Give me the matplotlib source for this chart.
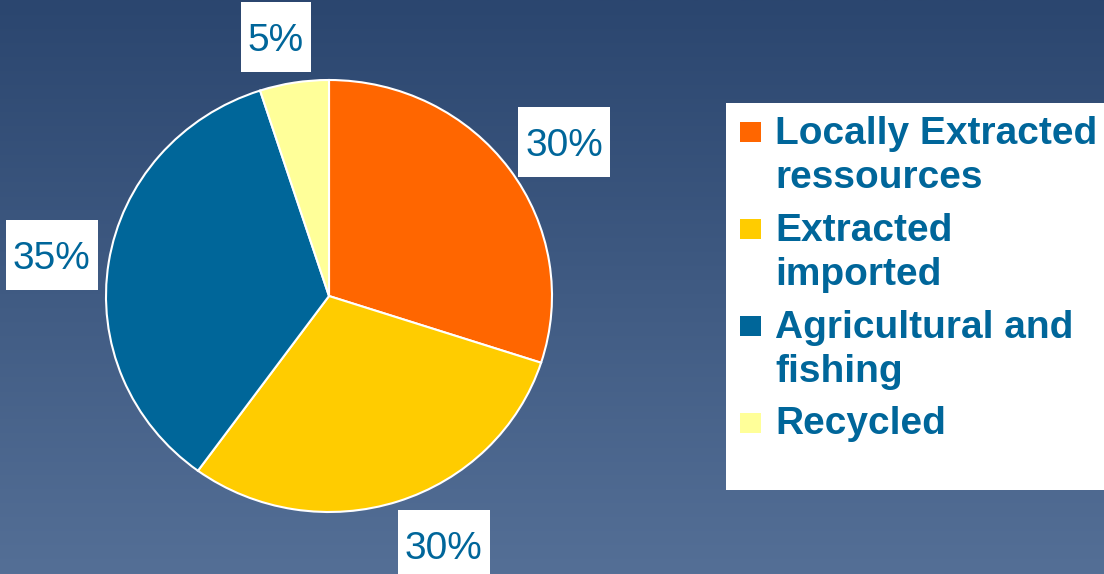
import matplotlib
matplotlib.use("Agg")
import matplotlib.pyplot as plt
from matplotlib.patches import Rectangle
from matplotlib.colors import LinearSegmentedColormap
import numpy as np

categories = ["Locally Extracted\nressources", "Extracted\nimported",
              "Agricultural and\nfishing", "Recycled"]
shares = [30, 30, 35, 5]
colors = ["#ff6600", "#ffcc00", "#006699", "#ffff99"]

W, H = 1104, 574
text_blue = "#00669a"
plt.rcParams['font.family'] = ['Liberation Sans', 'DejaVu Sans']

fig = plt.figure(figsize=(W / 100, H / 100), dpi=100)
to_fig = fig.transFigure.inverted()

# gradient background
bg = fig.add_axes([0, 0, 1, 1], zorder=-10)
cmap = LinearSegmentedColormap.from_list("bg", ["#546f96", "#2b466f"])
grad = np.linspace(0, 1, 256).reshape(-1, 1)
bg.imshow(grad, aspect='auto', cmap=cmap, origin='lower', extent=[0, 1, 0, 1])
bg.axis('off')

# pie, slightly wider than tall like the original
cx, cy, rx, ry = 329, 278, 223, 216
ax = fig.add_axes([(cx - rx) / W, (cy - ry) / H, 2 * rx / W, 2 * ry / H])
ax.patch.set_alpha(0)
wedges, _ = ax.pie(shares, colors=colors, startangle=90, counterclock=False,
                   wedgeprops=dict(edgecolor='white', linewidth=1.5))
ax.set_aspect('auto')
ax.set_xlim(-1, 1)
ax.set_ylim(-1, 1)

# percentage labels in white boxes, placed outside each wedge (powerpoint style)
renderer = fig.canvas.get_renderer()
total = sum(shares)
for w, v in zip(wedges, shares):
    mid = np.deg2rad((w.theta1 + w.theta2) / 2)
    dx, dy = np.cos(mid), np.sin(mid)
    t = fig.text(0, 0, f"{v / total * 100:.0f}%", fontsize=28, color=text_blue,
                 ha='center', va='center_baseline', zorder=5)
    ext = t.get_window_extent(renderer)
    bw, bh = ext.width + 14, 70
    ax_pt = ax.transData.transform((1.05 * dx, 1.05 * dy))
    bxc = ax_pt[0] + bw / 2 * np.clip(3 * dx, -1, 1)
    byc = ax_pt[1] + bh / 2 * dy
    t.set_position(to_fig.transform((bxc, byc)))
    fig.add_artist(Rectangle(((bxc - bw / 2) / W, (byc - bh / 2) / H), bw / W, bh / H,
                             transform=fig.transFigure, facecolor='white',
                             edgecolor='none', zorder=4))

# legend drawn by hand
fig.add_artist(Rectangle((726 / W, (H - 490) / H), (W - 726) / W + 0.01, (490 - 103) / H,
                         transform=fig.transFigure, facecolor='white', edgecolor='none'))
line_gap = 45
for i, (lab, col) in enumerate(zip(categories, colors)):
    base = 143 + i * 97
    nlines = lab.count("\n") + 1
    fig.add_artist(Rectangle((740 / W, (H - base + 1) / H), 21 / W, 20 / H,
                             transform=fig.transFigure, facecolor=col, edgecolor='none'))
    fig.text(775 / W, (H - base - (nlines - 1) * line_gap) / H, lab, fontsize=28,
             fontweight='bold', color=text_blue, va='baseline', ha='left',
             linespacing=1.28)

fig.savefig("out.png", dpi=100)
